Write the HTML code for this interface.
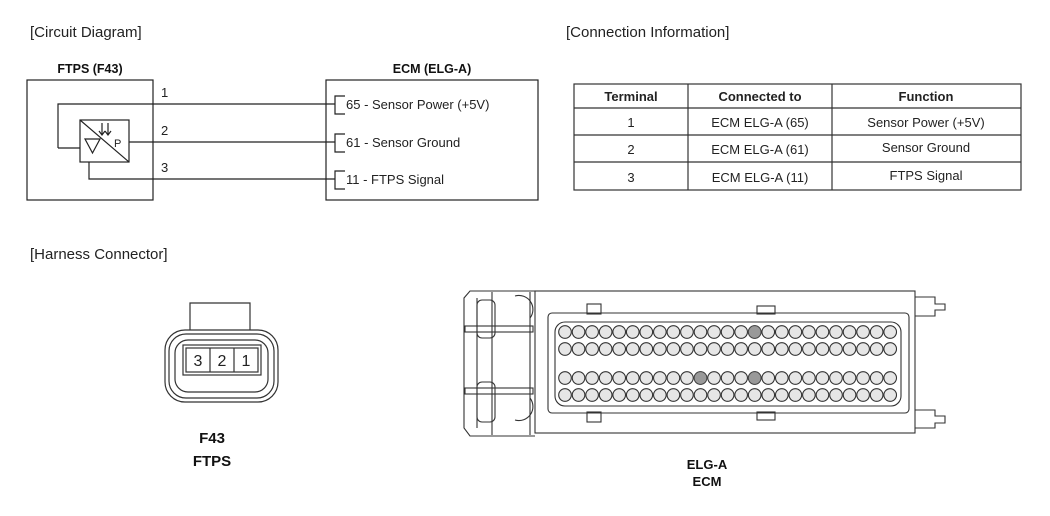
<!DOCTYPE html>
<html><head><meta charset="utf-8"><style>
body{margin:0;background:#fff;width:1050px;height:511px;overflow:hidden;font-family:"Liberation Sans",Arial,sans-serif}
</style></head><body>
<svg width="1050" height="511" viewBox="0 0 1050 511" xmlns="http://www.w3.org/2000/svg" font-family="Liberation Sans, Arial, sans-serif">
<defs>
<g id="row" fill="#e6e6e6" stroke="#333" stroke-width="1.1">
<circle cx="565" cy="0" r="6.3"/><circle cx="578.55" cy="0" r="6.3"/><circle cx="592.1" cy="0" r="6.3"/><circle cx="605.65" cy="0" r="6.3"/><circle cx="619.2" cy="0" r="6.3"/>
<circle cx="632.75" cy="0" r="6.3"/><circle cx="646.3" cy="0" r="6.3"/><circle cx="659.85" cy="0" r="6.3"/><circle cx="673.4" cy="0" r="6.3"/><circle cx="686.95" cy="0" r="6.3"/>
<circle cx="700.5" cy="0" r="6.3"/><circle cx="714.05" cy="0" r="6.3"/><circle cx="727.6" cy="0" r="6.3"/><circle cx="741.15" cy="0" r="6.3"/><circle cx="754.7" cy="0" r="6.3"/>
<circle cx="768.25" cy="0" r="6.3"/><circle cx="781.8" cy="0" r="6.3"/><circle cx="795.35" cy="0" r="6.3"/><circle cx="808.9" cy="0" r="6.3"/><circle cx="822.45" cy="0" r="6.3"/>
<circle cx="836" cy="0" r="6.3"/><circle cx="849.55" cy="0" r="6.3"/><circle cx="863.1" cy="0" r="6.3"/><circle cx="876.65" cy="0" r="6.3"/><circle cx="890.2" cy="0" r="6.3"/>
</g>
</defs>
<g fill="#222" font-size="15">
<text x="30" y="37">[Circuit Diagram]</text>
<text x="566" y="37">[Connection Information]</text>
<text x="30" y="259">[Harness Connector]</text>
</g>
<g font-weight="bold" font-size="12.5" fill="#111" text-anchor="middle">
<text x="90" y="73">FTPS (F43)</text>
<text x="432" y="73">ECM (ELG-A)</text>
</g>
<g fill="none" stroke="#222" stroke-width="1.2">
<rect x="27" y="80" width="126" height="120"/>
<rect x="326" y="80" width="212" height="120"/>
<rect x="80" y="120" width="49" height="42"/>
<line x1="80" y1="120" x2="129" y2="162"/>
<polyline points="58,148 80,148"/>
<polyline points="58,148 58,104 335,104"/>
<line x1="129" y1="142" x2="335" y2="142"/>
<polyline points="89,162 89,179 335,179"/>
<polyline points="345,96 335,96 335,114 345,114"/>
<polyline points="345,134 335,134 335,152 345,152"/>
<polyline points="345,171 335,171 335,189 345,189"/>
<polygon points="85,139 100,139 92.5,153"/>
<line x1="102" y1="123" x2="102" y2="135"/><polyline points="99,131 102,135 105,131"/>
<line x1="108" y1="123" x2="108" y2="135"/><polyline points="105,131 108,135 111,131"/>
</g>
<g font-size="13" fill="#222">
<text x="114" y="147" font-size="11">P</text>
<text x="161" y="97">1</text><text x="161" y="135">2</text><text x="161" y="172">3</text>
<text x="346" y="109">65 - Sensor Power (+5V)</text>
<text x="346" y="147">61 - Sensor Ground</text>
<text x="346" y="184">11 - FTPS Signal</text>
</g>
<g fill="none" stroke="#333" stroke-width="1.2">
<rect x="574" y="84" width="447" height="106"/>
<line x1="688" y1="84" x2="688" y2="190"/>
<line x1="832" y1="84" x2="832" y2="190"/>
<line x1="574" y1="108" x2="1021" y2="108"/>
<line x1="574" y1="135" x2="1021" y2="135"/>
<line x1="574" y1="162" x2="1021" y2="162"/>
</g>
<g font-size="13" fill="#222" text-anchor="middle">
<g font-weight="bold"><text x="631" y="101">Terminal</text><text x="760" y="101">Connected to</text><text x="926" y="101">Function</text></g>
<text x="631" y="127">1</text><text x="760" y="127">ECM ELG-A (65)</text><text x="926" y="127">Sensor Power (+5V)</text>
<text x="631" y="154">2</text><text x="760" y="154">ECM ELG-A (61)</text><text x="926" y="152">Sensor Ground</text>
<text x="631" y="182">3</text><text x="760" y="182">ECM ELG-A (11)</text><text x="926" y="180">FTPS Signal</text>
</g>
<g fill="none" stroke="#333" stroke-width="1.2">
<path d="M190,330 V303 H250 V330"/>
<rect x="165" y="330" width="113" height="72" rx="20"/>
<rect x="169" y="334" width="105" height="64" rx="17"/>
<rect x="175" y="340" width="93" height="52" rx="13"/>
<rect x="186" y="348" width="72" height="24"/>
<rect x="183" y="345" width="78" height="30"/>
<line x1="210" y1="348" x2="210" y2="372"/>
<line x1="234" y1="348" x2="234" y2="372"/>
</g>
<g font-size="16" fill="#222" text-anchor="middle"><text x="198" y="366">3</text><text x="222" y="366">2</text><text x="246" y="366">1</text></g>
<g font-size="15" font-weight="bold" fill="#111" text-anchor="middle"><text x="212" y="443">F43</text><text x="212" y="466">FTPS</text></g>
<g fill="none" stroke="#333" stroke-width="1.1">
<rect x="535" y="291" width="380" height="142"/>
<rect x="548" y="313" width="361" height="100" rx="4"/>
<rect x="555" y="322" width="346" height="84" rx="10"/>
<path d="M535,291 H470 L464,298 V428 L470,436 H535"/>
<line x1="477" y1="298" x2="477" y2="428"/>
<line x1="492" y1="292" x2="492" y2="435"/>
<line x1="530" y1="292" x2="530" y2="435"/>
<rect x="465" y="326" width="68" height="6"/><rect x="465" y="388" width="68" height="6"/>
<rect x="477" y="300" width="18" height="38" rx="5"/><rect x="477" y="382" width="18" height="40" rx="5"/>
<path d="M515,296 a14,14 0 0,1 15,22"/><path d="M515,420 a14,14 0 0,0 15,-22"/>
<path d="M915,297 H935 V304 H945 V310 H935 V316 H915"/>
<path d="M915,410 H935 V416 H945 V423 H935 V428 H915"/>
<rect x="587" y="304" width="14" height="10"/><rect x="587" y="412" width="14" height="10"/>
<rect x="757" y="306" width="18" height="8"/><rect x="757" y="412" width="18" height="8"/>
</g>
<use href="#row" y="332"/>
<use href="#row" y="349"/>
<use href="#row" y="378"/>
<use href="#row" y="395"/>
<g fill="#999" stroke="#444" stroke-width="0.9">
<circle cx="754.7" cy="332" r="6.3"/><circle cx="700.5" cy="378" r="6.3"/><circle cx="754.7" cy="378" r="6.3"/>
</g>
<g font-size="13" font-weight="bold" fill="#111" text-anchor="middle"><text x="707" y="469">ELG-A</text><text x="707" y="486">ECM</text></g>
</svg>
</body></html>
